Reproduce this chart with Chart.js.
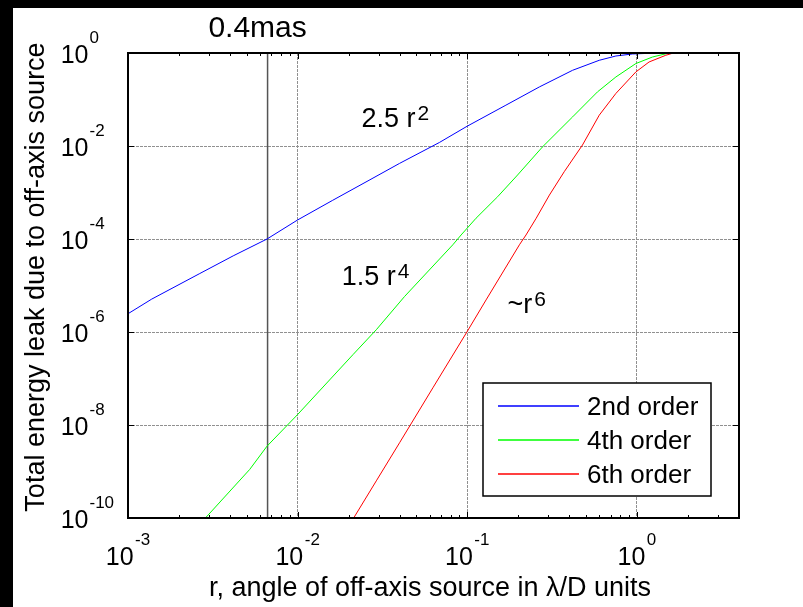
<!DOCTYPE html>
<html>
<head>
<meta charset="utf-8">
<script src="https://cdn.jsdelivr.net/npm/chart.js@4.4.0/dist/chart.umd.min.js"></script>
<style>
  html, body { margin: 0; padding: 0; background: #fff; }
  canvas { display: block; }
</style>
</head>
<body>
<canvas id="grafico" width="803" height="607"></canvas>
<script>
// values
const r2nd = [0.001, 0.00138, 0.00265, 0.00417, 0.0066, 0.01, 0.0161, 0.0267, 0.0399, 0.0685, 0.1, 0.169, 0.266, 0.418, 0.600, 0.752, 0.941, 1.31, 4];
const leak2nd = [2.47e-6, 5.1e-6, 1.81e-5, 4.34e-5, 1.0e-4, 2.57e-4, 6.8e-4, 1.88e-3, 4.23e-3, 0.0119, 0.0267, 0.0755, 0.186, 0.425, 0.697, 0.862, 0.952, 1, 1];

const r4th = [0.00286, 0.00522, 0.0066, 0.01, 0.0212, 0.0291, 0.0427, 0.0822, 0.092, 0.1127, 0.151, 0.198, 0.278, 0.418, 0.586, 0.752, 0.986, 1.236, 1.55, 4];
const leak4th = [1e-10, 1.11e-9, 3.5e-9, 1.68e-8, 3.26e-7, 1.12e-6, 5.8e-6, 7.5e-5, 1.22e-4, 2.8e-4, 8.1e-4, 2.38e-3, 9.6e-3, 0.0423, 0.146, 0.305, 0.593, 0.82, 1, 1];

const r6th = [0.0214, 0.0291, 0.0399, 0.0627, 0.1, 0.130, 0.203, 0.222, 0.255, 0.305, 0.373, 0.478, 0.600, 0.752, 0.986, 1.18, 1.48, 1.62, 4];
const leak6th = [1e-10, 6.3e-10, 4.15e-9, 6.3e-8, 1.03e-6, 5.1e-6, 7.5e-5, 1.22e-4, 2.8e-4, 8.8e-4, 2.8e-3, 0.0105, 0.046, 0.135, 0.391, 0.641, 0.893, 0.985, 1];

const rMas = 0.00665;
const masLabel = '0.4mas';

const xTicks = [1e-3, 1e-2, 1e-1, 1];
const xTickExp = ['-3', '-2', '-1', '0'];
const yTicks = [1, 1e-2, 1e-4, 1e-6, 1e-8, 1e-10];
const yTickExp = ['0', '-2', '-4', '-6', '-8', '-10'];

const legendLabels = ['2nd order', '4th order', '6th order'];
const lineColors = ['#0000ff', '#00ff00', '#ff0000'];

const xTitle = 'r, angle of off-axis source in \u03bb/D units';
const yTitle = 'Total energy leak due to off-axis source';

// curve notes: text, exponent, anchor r, anchor leak (left/baseline)
const notes = [
  ['2.5 r', '2', 0.0238, 0.0251],
  ['1.5 r', '4', 0.0182, 1.04e-5],
  ['~r', '6', 0.1726, 2.56e-6]
];

const FONT = '"Liberation Sans", Arial, sans-serif';

function pontos(rs, vals) {
  return rs.map((v, i) => ({ x: v, y: vals[i] }));
}

const moldura = {
  id: 'moldura',
  beforeDraw(chart) {
    const ctx = chart.ctx;
    ctx.save();
    ctx.fillStyle = '#fff';
    ctx.fillRect(0, 0, chart.width, chart.height);
    ctx.fillStyle = '#000';
    ctx.fillRect(0, 0, chart.width, 8);
    ctx.fillRect(0, 0, 13, chart.height);
    ctx.restore();
  },
  afterDraw(chart) {
    const { ctx, chartArea: a, scales: { x, y } } = chart;
    ctx.save();

    // inward ticks, matlab style
    ctx.strokeStyle = '#000';
    ctx.lineWidth = 1;
    ctx.beginPath();
    for (let e = -3; e <= 0; e++) {
      for (let m = 1; m <= 9; m++) {
        const v = m * Math.pow(10, e);
        if (v >= x.max) break;
        const px = Math.round(x.getPixelForValue(v)) + 0.5;
        const len = m === 1 ? 6 : 3;
        ctx.moveTo(px, a.bottom); ctx.lineTo(px, a.bottom - len);
        ctx.moveTo(px, a.top); ctx.lineTo(px, a.top + len);
      }
    }
    yTicks.forEach(v => {
      const py = Math.round(y.getPixelForValue(v)) + 0.5;
      ctx.moveTo(a.left, py); ctx.lineTo(a.left + 6, py);
      ctx.moveTo(a.right, py); ctx.lineTo(a.right - 6, py);
    });
    ctx.stroke();

    ctx.lineWidth = 2;
    ctx.strokeRect(a.left, a.top, a.right - a.left, a.bottom - a.top);

    ctx.fillStyle = '#000';
    ctx.textBaseline = 'alphabetic';

    // x tick labels
    xTicks.forEach((v, i) => {
      const px = x.getPixelForValue(v);
      ctx.font = '25px ' + FONT;
      const wb = ctx.measureText('10').width;
      ctx.font = '17px ' + FONT;
      const we = ctx.measureText(xTickExp[i]).width;
      const start = px - (wb + 1.5 + we) / 2;
      ctx.textAlign = 'left';
      ctx.font = '25px ' + FONT;
      ctx.fillText('10', start, a.bottom + 47);
      ctx.font = '17px ' + FONT;
      ctx.fillText(xTickExp[i], start + wb + 1.5, a.bottom + 27);
    });

    // y tick labels
    yTicks.forEach((v, i) => {
      const py = y.getPixelForValue(v);
      ctx.font = '25px ' + FONT;
      ctx.textAlign = 'right';
      ctx.fillText('10', a.left - 39.5, py + 10);
      ctx.font = '17px ' + FONT;
      ctx.textAlign = 'left';
      ctx.fillText(yTickExp[i], a.left - 38.5, py - 10);
    });

    // notes on curves
    notes.forEach(n => {
      const px = x.getPixelForValue(n[2]);
      const py = y.getPixelForValue(n[3]);
      ctx.textAlign = 'left';
      ctx.font = '27px ' + FONT;
      ctx.fillText(n[0], px, py);
      const w = ctx.measureText(n[0]).width;
      ctx.font = '21px ' + FONT;
      ctx.fillText(n[1], px + w + 2, py - 7);
    });

    // 0.4mas label above the plot
    ctx.font = '30px ' + FONT;
    ctx.textAlign = 'center';
    ctx.fillText(masLabel, x.getPixelForValue(rMas) - 10, a.top - 16.5);

    // axis titles
    ctx.font = '27px ' + FONT;
    ctx.fillText(xTitle, 430, a.bottom + 78);
    ctx.save();
    ctx.translate(44, 277);
    ctx.rotate(-Math.PI / 2);
    ctx.fillText(yTitle, 0, 0);
    ctx.restore();

    // legend box
    const lx = 483, ly = 383, lw = 228, lh = 113;
    ctx.fillStyle = '#fff';
    ctx.fillRect(lx, ly, lw, lh);
    ctx.strokeStyle = '#000';
    ctx.lineWidth = 1.5;
    ctx.strokeRect(lx, ly, lw, lh);
    ctx.textAlign = 'left';
    ctx.font = '26px ' + FONT;
    legendLabels.forEach((t, i) => {
      const rowY = ly + 23 + i * 34;
      ctx.strokeStyle = lineColors[i];
      ctx.lineWidth = 1.5;
      ctx.beginPath();
      ctx.moveTo(lx + 15, rowY);
      ctx.lineTo(lx + 96, rowY);
      ctx.stroke();
      ctx.fillStyle = '#000';
      ctx.fillText(t, lx + 104, rowY + 9);
    });

    ctx.restore();
  }
};

const gridOpts = { color: '#909090', lineWidth: 1, drawTicks: false };

new Chart(document.getElementById('grafico'), {
  type: 'line',
  data: {
    datasets: [
      {
        label: legendLabels[2],
        data: pontos(r6th, leak6th),
        borderColor: lineColors[2],
        borderWidth: 1,
        pointRadius: 0,
        tension: 0,
        order: 0
      },
      {
        label: legendLabels[1],
        data: pontos(r4th, leak4th),
        borderColor: lineColors[1],
        borderWidth: 1,
        pointRadius: 0,
        tension: 0,
        order: 1
      },
      {
        label: legendLabels[0],
        data: pontos(r2nd, leak2nd),
        borderColor: lineColors[0],
        borderWidth: 1,
        pointRadius: 0,
        tension: 0,
        order: 2
      },
      {
        label: masLabel,
        data: [{ x: rMas, y: 1e-10 }, { x: rMas, y: 1 }],
        borderColor: '#555',
        borderWidth: 1.5,
        pointRadius: 0,
        order: 3
      }
    ]
  },
  options: {
    responsive: false,
    animation: false,
    devicePixelRatio: 1,
    layout: { padding: { top: 53, right: 64, left: 0, bottom: 0 } },
    plugins: {
      legend: { display: false },
      tooltip: { enabled: false }
    },
    scales: {
      x: {
        type: 'logarithmic',
        min: 1e-3,
        max: 4,
        ticks: { display: false },
        grid: gridOpts,
        border: { display: false, dash: [3, 1] },
        afterBuildTicks: s => { s.ticks = xTicks.map(v => ({ value: v })); },
        afterFit: s => { s.height = 89; }
      },
      y: {
        type: 'logarithmic',
        min: 1e-10,
        max: 1,
        ticks: { display: false },
        grid: gridOpts,
        border: { display: false, dash: [3, 1] },
        afterBuildTicks: s => { s.ticks = yTicks.map(v => ({ value: v })); },
        afterFit: s => { s.width = 128; }
      }
    }
  },
  plugins: [moldura]
});
</script>
</body>
</html>
